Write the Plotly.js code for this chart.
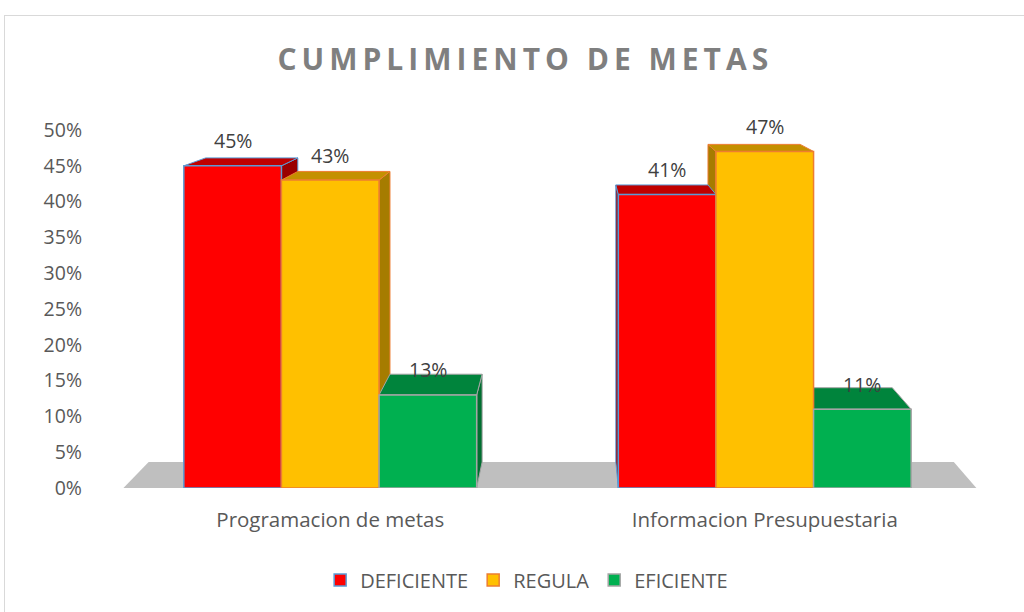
<!DOCTYPE html>
<html>
<head>
<meta charset="utf-8">
<script src="https://cdn.plot.ly/plotly-3.0.1.min.js"></script>
<style>
  html, body { margin: 0; padding: 0; width: 1024px; height: 612px; overflow: hidden; background: #fff; }
  #frame { position: absolute; left: 4px; top: 15px; width: 1100px; height: 700px; border: 1px solid #D9D9D9; box-sizing: border-box; }
  #chart { position: absolute; left: 0; top: 0; width: 1024px; height: 612px; }
  #chart .gtitle { letter-spacing: 5px; }
</style>
</head>
<body>
<div id="frame"></div>
<div id="chart"></div>
<script>
// ---- data ----
const categories = ['Programacion de metas', 'Informacion Presupuestaria'];
const seriesNames = ['DEFICIENTE', 'REGULA', 'EFICIENTE'];
const deficiente = [0.45, 0.41];
const regula = [0.43, 0.47];
const eficiente = [0.13, 0.11];
const yTickVals = [0, 0.05, 0.10, 0.15, 0.20, 0.25, 0.30, 0.35, 0.40, 0.45, 0.50];

// ---- style ----
const frontColors = ['#FF0000', '#FFC000', '#00B050'];
const topColors   = ['#C00000', '#C49000', '#00843C'];
const sideColors  = ['#9A0000', '#A67C00', '#006F30'];
const lineColors  = ['#5B9BD5', '#ED7D31', '#A5A5A5'];
const values = [deficiente, regula, eficiente];
const catIdx = categories.map((c, i) => i);

const bargap = 0.326;
const barW = (1 - bargap) / 3;
const offsets = [-barW, 0, barW];
// perspective (vanishing point in data space) for the 3D look
const VP = { x: 0.561, y: 0.647 };
const depth = 0.056;
const back = (x, y) => [x + depth * (VP.x - x), y + depth * (VP.y - y)];
const P = pts => 'M ' + pts.map(p => p[0] + ',' + p[1]).join(' L ') + ' Z';

const traces = seriesNames.map((name, s) => ({
  type: 'bar',
  name: name,
  x: catIdx,
  y: values[s],
  marker: { color: frontColors[s], line: { color: lineColors[s], width: 1.5 } },
  hoverinfo: 'skip'
}));

const shapes = [];
// floor
const floorL = -0.476, floorR = 1.487;
shapes.push({
  type: 'path', xref: 'x', yref: 'y', layer: 'below',
  path: P([[floorL, 0], [floorR, 0], back(floorR, 0), back(floorL, 0)]),
  fillcolor: '#BFBFBF', line: { width: 0 }
});
// side and top faces
const sides = [], tops = [];
catIdx.forEach(i => {
  seriesNames.forEach((n, s) => {
    const v = values[s][i];
    const xl = i + offsets[s] - barW / 2, xr = i + offsets[s] + barW / 2;
    let xe = null;
    if (xr < VP.x) xe = xr; else if (xl > VP.x) xe = xl;
    if (xe !== null) {
      sides.push({
        type: 'path', xref: 'x', yref: 'y', layer: 'below',
        path: P([[xe, 0], [xe, v], back(xe, v), back(xe, 0)]),
        fillcolor: sideColors[s], line: { color: lineColors[s], width: 1 }
      });
    }
    tops.push({
      type: 'path', xref: 'x', yref: 'y', layer: 'below',
      path: P([[xl, v], [xr, v], back(xr, v), back(xl, v)]),
      fillcolor: topColors[s], line: { color: lineColors[s], width: 1 }
    });
  });
});
shapes.push(...sides, ...tops);

const annotations = [];
catIdx.forEach(i => {
  seriesNames.forEach((n, s) => {
    const v = values[s][i];
    annotations.push({
      x: i + offsets[s], y: v, xref: 'x', yref: 'y',
      text: Math.round(v * 100) + '%', showarrow: false,
      yanchor: 'middle', yshift: 25,
      font: { family: 'Open Sans', size: 19.5, color: '#404040' }
    });
  });
});

const layout = {
  width: 1024, height: 612,
  paper_bgcolor: 'rgba(0,0,0,0)', plot_bgcolor: 'rgba(0,0,0,0)',
  margin: { l: 112.5, r: 41.5, t: 130, b: 124, pad: 0 },
  title: {
    text: '<b>CUMPLIMIENTO DE METAS</b>',
    x: 0.513, xanchor: 'center', y: 0.902, yanchor: 'middle',
    font: { family: 'Open Sans', size: 30, color: '#7F7F7F' }
  },
  barmode: 'group', bargap: bargap, bargroupgap: 0,
  xaxis: {
    type: 'linear', range: [-0.5, 1.5], tickvals: catIdx, ticktext: categories,
    showgrid: false, zeroline: false, showline: false, ticks: '',
    ticklabelstandoff: 17,
    tickfont: { family: 'Open Sans', size: 20.5, color: '#595959' },
    fixedrange: true
  },
  yaxis: {
    range: [0, 0.5], tickvals: yTickVals, tickformat: '.0%',
    showgrid: false, zeroline: false, showline: false, ticks: '',
    ticklabelstandoff: 30,
    tickfont: { family: 'Open Sans', size: 19.5, color: '#595959' },
    fixedrange: true
  },
  showlegend: true,
  legend: {
    orientation: 'h', x: 0.476, xanchor: 'center', y: -0.257, yanchor: 'middle',
    font: { family: 'Open Sans', size: 20, color: '#595959' },
    itemwidth: 30, traceorder: 'normal'
  },
  shapes: shapes,
  annotations: annotations
};

Plotly.newPlot('chart', traces, layout, { displayModeBar: false, staticPlot: true });
</script>
</body>
</html>
